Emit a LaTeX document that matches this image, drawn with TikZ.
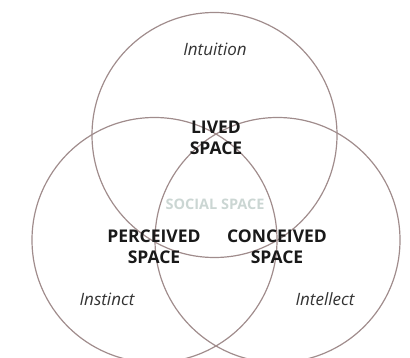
\documentclass[tikz,border=0pt]{standalone}
\usepackage{fontspec}
\setmainfont{Open Sans}
\begin{document}
\begin{tikzpicture}[x=1pt,y=-1pt,
  ring/.style={draw=ringcol,line width=1.2pt},
  realm/.style={font=\fontsize{17}{20}\selectfont\itshape,text=black!80},
  space/.style={font=\fontsize{17.5}{21}\selectfont\bfseries,align=center,text=black!90},
  social/.style={font=\fontsize{14.5}{17}\selectfont\bfseries,text=socialcol}]
\definecolor{ringcol}{HTML}{A08C8C}
\definecolor{socialcol}{HTML}{CBD6D3}
\useasboundingbox (0,0) rectangle (410,358);
\begin{scope}
  \clip (0,0) rectangle (410,358);
  \draw[ring] (214.5,135) circle (122.5);
  \draw[ring] (154.5,240) circle (122.5);
  \draw[ring] (277.5,240) circle (122.5);
\end{scope}
\node[realm] (intuition) at (215,49) {Intuition};
\node[realm] (instinct) at (107,299) {Instinct};
\node[realm] (intellect) at (325,299) {Intellect};
\node[space] (lived) at (216,138) {LIVED\\SPACE};
\node[social] (social) at (215,204) {SOCIAL SPACE};
\node[space] (perceived) at (154,247) {PERCEIVED\\SPACE};
\node[space] (conceived) at (277,247) {CONCEIVED\\SPACE};
\end{tikzpicture}
\end{document}
